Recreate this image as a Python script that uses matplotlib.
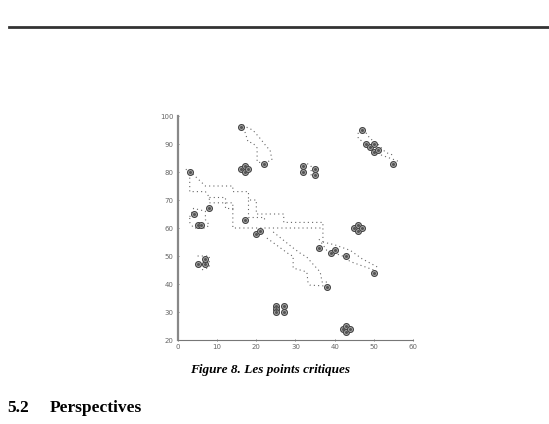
import matplotlib
matplotlib.use('Agg')
import matplotlib.pyplot as plt
from matplotlib.lines import Line2D

# critical points (x, y)
pts_x = [3, 4, 5, 6, 8, 5, 7, 7,
         16, 16, 17, 17, 18, 22, 17, 20, 21,
         25, 25, 25, 27, 27,
         32, 32, 35, 35,
         47, 48, 49, 50, 50, 51, 55,
         36, 39, 40, 43, 50, 38,
         45, 46, 46, 47,
         42, 43, 43, 44]
pts_y = [80, 65, 61, 61, 67, 47, 47, 49,
         96, 81, 82, 80, 81, 83, 63, 58, 59,
         32, 31, 30, 32, 30,
         82, 80, 81, 79,
         95, 90, 89, 90, 87, 88, 83,
         53, 51, 52, 50, 44, 39,
         60, 61, 59, 60,
         24, 25, 23, 24]

# dotted traces (data coords)
band_top_x = [2, 4, 7, 14, 14, 18, 18, 20, 20, 27, 27, 37, 37]
band_top_y = [81, 79, 75, 75, 73, 73, 70, 70, 65, 65, 62, 62, 55]
band_bot_x = [3, 3, 7, 8, 8, 14, 14, 37]
band_bot_y = [78, 73, 73, 71, 69, 69, 60, 60]
inner_x = [8, 12, 12, 14]
inner_y = [71, 71, 67, 67]
step_x = [18, 18, 22, 22]
step_y = [70, 64, 64, 62]
down_l_x = [22.7, 28.6, 29.4, 29.4, 32.9, 33.2, 33.7, 37.5]
down_l_y = [56.4, 50.4, 50, 45.7, 44.3, 40.4, 39.6, 39.3]
down_r_x = [24.3, 29.1, 31.1, 32.9, 34.2, 36.3, 36.8, 38.3]
down_r_y = [58.6, 53.2, 51.1, 49.6, 47.5, 44.3, 40.7, 40.7]
right_top_x = [37, 40, 44, 47, 51]
right_top_y = [55, 54, 52, 49, 46]
right_bot_x = [36, 38, 42, 44, 48, 50]
right_bot_y = [56, 52, 50, 48, 46, 45]
loop_a_x = [3, 4, 7, 7, 8, 7, 4, 3, 3]
loop_a_y = [64, 67, 66, 63, 61, 60, 60, 62, 64]
loop_b_x = [5, 8, 8, 6]
loop_b_y = [50, 50, 46, 45]
top_out_x = [16.6, 17.9, 19.1, 20.9, 21.7, 22.7, 23.5, 24, 22.7]
top_out_y = [96.8, 95.7, 95, 92.1, 90.7, 88.9, 87.9, 84.3, 83.6]
top_in_x = [17.1, 17.9, 19.1, 20.2, 20.2, 21.7]
top_in_y = [94.3, 90.7, 90.4, 88.6, 83.6, 83.2]
tr_out_x = [46, 46, 48, 50, 52, 54, 56, 56]
tr_out_y = [94, 92, 90, 88, 86, 85, 84, 83]
tr_in_x = [48, 49, 51, 53, 55]
tr_in_y = [94, 92, 90, 87, 86]
cl_x = [33, 34, 34, 34]
cl_y = [83, 82, 79, 78]
traces = [(band_top_x, band_top_y), (band_bot_x, band_bot_y), (inner_x, inner_y),
          (step_x, step_y), (down_l_x, down_l_y), (down_r_x, down_r_y),
          (right_top_x, right_top_y), (right_bot_x, right_bot_y),
          (loop_a_x, loop_a_y), (loop_b_x, loop_b_y),
          (top_out_x, top_out_y), (top_in_x, top_in_y),
          (tr_out_x, tr_out_y), (tr_in_x, tr_in_y), (cl_x, cl_y)]

fig = plt.figure(figsize=(5.49, 4.24), dpi=100)
ax = fig.add_axes([0.3242, 0.1981, 0.4281, 0.5283])

for tx, ty in traces:
    ax.plot(tx, ty, linestyle=(0, (1, 2.8)), color='#666666', linewidth=0.8)

ax.scatter(pts_x, pts_y, s=18, facecolor='#b0b0b0', edgecolor='#454545',
           linewidth=0.8, zorder=3)
ax.scatter(pts_x, pts_y, s=1.5, color='#555555', zorder=4)

ax.set_xlim(0, 60)
ax.set_ylim(20, 100)
ax.set_xticks(range(0, 61, 10))
ax.set_yticks(range(20, 101, 10))
for s in ['top', 'right']:
    ax.spines[s].set_visible(False)
ax.spines['left'].set_color('#888888')
ax.spines['left'].set_linewidth(1.6)
ax.spines['bottom'].set_color('#777777')
ax.spines['bottom'].set_linewidth(0.8)
ax.tick_params(labelsize=5, colors='#666666', length=2, width=0.6, direction='inout', pad=2)

# page decorations
fig.add_artist(Line2D([0.016, 1.0], [0.9363, 0.9363], color='#333333', linewidth=2))
fig.text(0.492, 0.128, 'Figure 8. Les points critiques', family='Liberation Serif',
         fontsize=9.5, fontweight='bold', style='italic', ha='center', va='center')
fig.text(0.014, 0.037, '5.2', family='Liberation Serif', fontsize=12.5,
         fontweight='bold', ha='left', va='center')
fig.text(0.091, 0.037, 'Perspectives', family='Liberation Serif', fontsize=12.5,
         fontweight='bold', ha='left', va='center')

fig.savefig('out.png', dpi=100)
